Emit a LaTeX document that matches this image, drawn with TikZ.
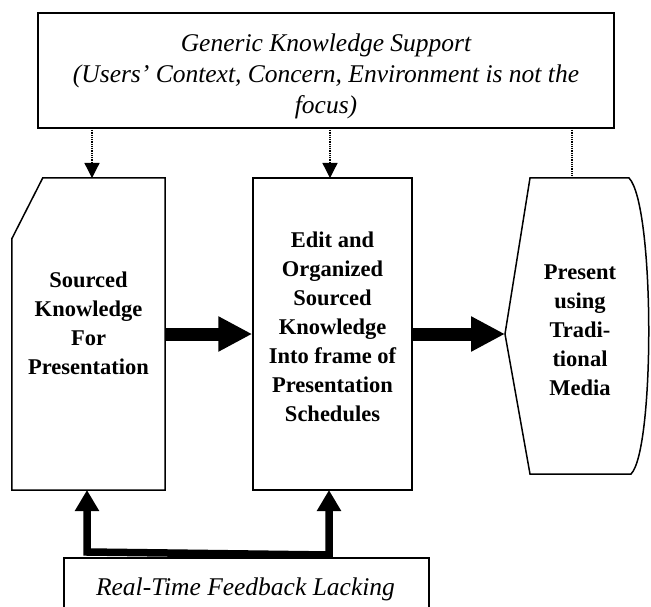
\documentclass[tikz,border=0pt]{standalone}
\usepackage{fontspec}
\setmainfont{Liberation Serif}
\usetikzlibrary{arrows.meta}
\begin{document}
\begin{tikzpicture}[x=1pt,y=-1pt,
  box/.style={draw, line width=1.5pt, inner sep=0pt},
  ghost/.style={inner sep=0pt},
  itxt/.style={font=\fontsize{25.5}{31}\selectfont\itshape, align=center, inner sep=0pt},
  btxt/.style={font=\fontsize{22.5}{29}\selectfont\bfseries, align=center, inner sep=0pt},
  dotpat/.style={line width=1.3pt, dash pattern=on 0.9pt off 0.9pt},
  dotarrow/.style={dotpat, -{Triangle[length=15pt,width=15pt]}},
  thickarrow/.style={line width=13pt, -{Triangle[length=34pt,width=33pt]}},
  fbarrow/.style={line width=7.5pt, {Triangle[length=21pt,width=23pt]}-{Triangle[length=21pt,width=23pt]}}
]
\useasboundingbox (0,0) rectangle (651,607);
\clip (0,0) rectangle (651,607);
\fill[white] (0,0) rectangle (651,607);

% top box
\node[box, minimum width=576pt, minimum height=115pt] (top) at (326,70.5) {};
\node[itxt] (toptxt) at (326,76) {Generic Knowledge Support\\(Users' Context, Concern, Environment is not the\\focus)};

% left card shape
\node[ghost, minimum width=153pt, minimum height=312pt] (left) at (88.5,334) {};
\draw[line width=1.5pt] ([xshift=31pt]left.north west) -- (left.north east) -- (left.south east)
  -- (left.south west) -- ([yshift=-61pt]left.north west) -- cycle;
\node[btxt] (lefttxt) at (88.5,323) {Sourced\\Knowledge\\For\\Presentation};

% middle box
\node[box, minimum width=159pt, minimum height=312pt] (mid) at (332.5,334) {};
\node[btxt] (midtxt) at (332.5,327) {Edit and\\Organized\\Sourced\\Knowledge\\Into frame of\\Presentation\\Schedules};

% right display shape
\coordinate (rtl) at (530,178);
\coordinate (rtr) at (629,178);
\coordinate (rbr) at (631,474);
\coordinate (rbl) at (530,474);
\coordinate (rtip) at (505,334);
\draw[line width=1.5pt] (rtl) -- (rtr) .. controls (655,205) and (655,450) .. (rbr) -- (rbl) -- (rtip) -- cycle;
\node[btxt] (righttxt) at (580,330) {Present\\using\\Tradi-\\tional\\Media};

% dotted connectors from top box
\coordinate (d1s) at (92,128);   \coordinate (d1e) at (92,178);
\coordinate (d2s) at (330,128);  \coordinate (d2e) at (330,178);
\coordinate (d3s) at (572,128);  \coordinate (d3e) at (572,178);
\draw[dotarrow] (d1s) -- (d1e);
\draw[dotarrow] (d2s) -- (d2e);
\draw[dotpat] (d3s) -- (d3e);

% thick flow arrows
\draw[thickarrow] (left.east) -- (mid.west);
\draw[thickarrow] (mid.east) -- (rtip);

% feedback box
\node[box, minimum width=365pt, minimum height=70pt, anchor=north west] (fb) at (63,557) {};
\node[itxt, anchor=base] (fbtxt) at (245.5,595) {Real-Time Feedback Lacking};

% feedback connector
\coordinate (fa) at (87,490);
\coordinate (fb1) at (87,552);
\coordinate (fb2) at (329,555);
\coordinate (fm) at (329,490);
\draw[fbarrow] (fa) -- (fb1) -- (fb2) -- (fm);
\end{tikzpicture}
\end{document}
